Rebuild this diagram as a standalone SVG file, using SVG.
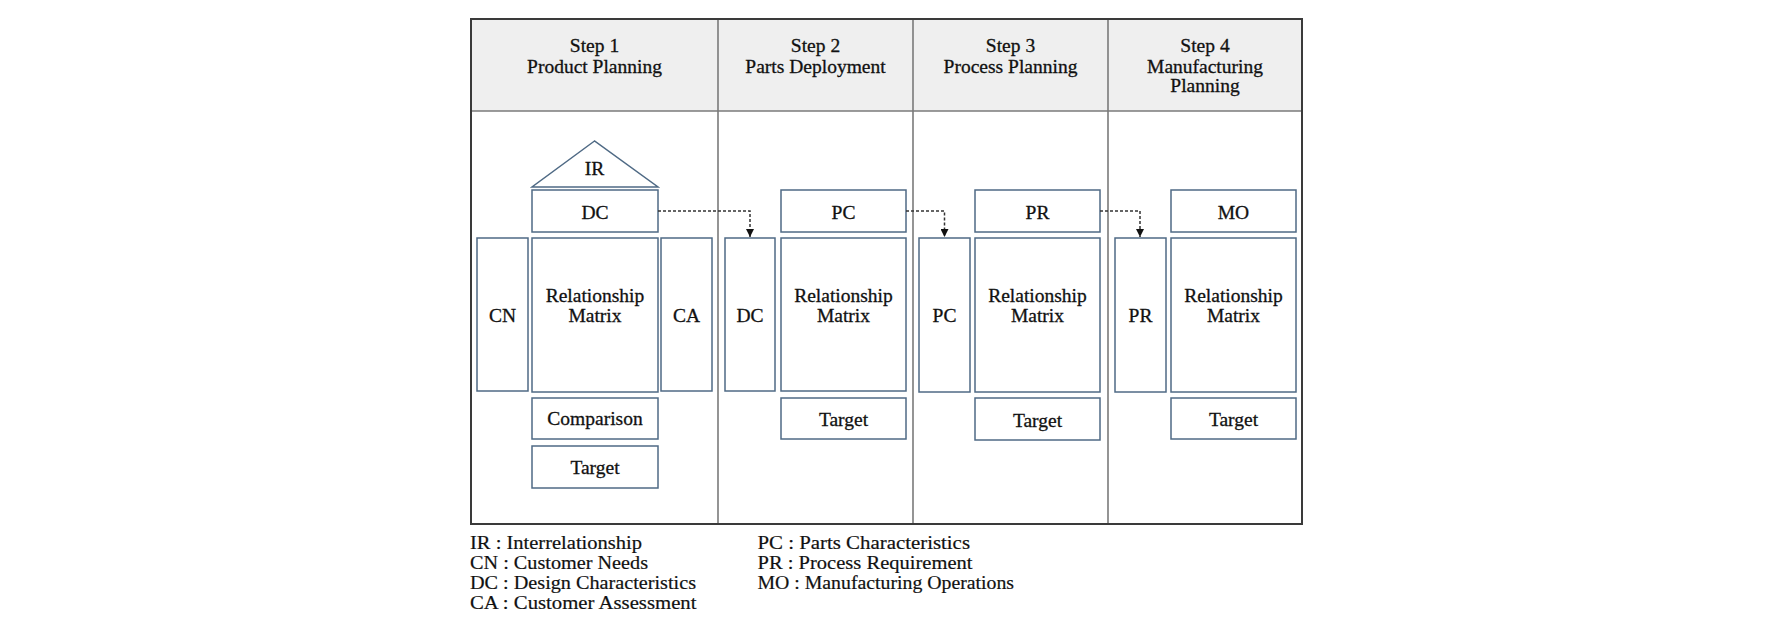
<svg xmlns="http://www.w3.org/2000/svg" width="1772" height="623" viewBox="0 0 1772 623">
<style>
text{font-family:"Liberation Serif","Times New Roman",serif;fill:#111;}
.h{font-size:19.5px;text-anchor:middle;stroke:#111;stroke-width:0.3;}
.l{font-size:19.5px;text-anchor:middle;stroke:#111;stroke-width:0.3;}
.lg{font-size:18.5px;stroke:#111;stroke-width:0.2;}
.box{fill:#fff;stroke:#4f6a85;stroke-width:1.5;}
.col{stroke:#7a7a7a;stroke-width:1.6;}
.conn{fill:none;stroke:#333;stroke-width:1.5;stroke-dasharray:3 2;}
</style>
<defs>
<marker id="arr" markerUnits="userSpaceOnUse" viewBox="0 0 8 8" refX="8" refY="4" markerWidth="8" markerHeight="8" orient="auto">
<path d="M0,0 L8,4 L0,8 z" fill="#111"/>
</marker>
</defs>
<rect width="1772" height="623" fill="#fff"/>
<g id="frame">
<rect x="471" y="19" width="831" height="92" fill="#efefef"/>
<line class="col" x1="471" y1="111" x2="1302" y2="111"/>
<line class="col" x1="718" y1="19" x2="718" y2="524"/>
<line class="col" x1="913" y1="19" x2="913" y2="524"/>
<line class="col" x1="1108" y1="19" x2="1108" y2="524"/>
<rect x="471" y="19" width="831" height="505" fill="none" stroke="#3a3a3a" stroke-width="2"/>
</g>
<g id="headers">
<text class="h" x="594.5" y="52">Step 1</text>
<text class="h" x="594.5" y="73">Product Planning</text>
<text class="h" x="815.5" y="52">Step 2</text>
<text class="h" x="815.5" y="73">Parts Deployment</text>
<text class="h" x="1010.5" y="52">Step 3</text>
<text class="h" x="1010.5" y="73">Process Planning</text>
<text class="h" x="1205" y="52">Step 4</text>
<text class="h" x="1205" y="72.5">Manufacturing</text>
<text class="h" x="1205" y="92">Planning</text>
</g>
<g id="n-ir"><polygon class="box" points="594.5,141 532,187 658,187"/><text class="l" x="594.5" y="175">IR</text></g>
<g id="n-dc1"><rect class="box" x="532" y="190" width="126" height="42"/><text class="l" x="595" y="219">DC</text></g>
<g id="n-cn"><rect class="box" x="477" y="238" width="51" height="153"/><text class="l" x="502.5" y="321.5">CN</text></g>
<g id="n-rm1"><rect class="box" x="532" y="238" width="126" height="154"/><text class="l" x="595" y="302">Relationship</text><text class="l" x="595" y="322">Matrix</text></g>
<g id="n-ca"><rect class="box" x="661" y="238" width="51" height="153"/><text class="l" x="686.5" y="321.5">CA</text></g>
<g id="n-comp"><rect class="box" x="532" y="398" width="126" height="41"/><text class="l" x="595" y="425">Comparison</text></g>
<g id="n-t1"><rect class="box" x="532" y="446" width="126" height="42"/><text class="l" x="595" y="474">Target</text></g>

<g id="n-pc2"><rect class="box" x="781" y="190" width="125" height="42"/><text class="l" x="843.5" y="219">PC</text></g>
<g id="n-dc2"><rect class="box" x="725" y="238" width="50" height="153"/><text class="l" x="750" y="321.5">DC</text></g>
<g id="n-rm2"><rect class="box" x="781" y="238" width="125" height="153"/><text class="l" x="843.5" y="301.5">Relationship</text><text class="l" x="843.5" y="321.5">Matrix</text></g>
<g id="n-t2"><rect class="box" x="781" y="398" width="125" height="41"/><text class="l" x="843.5" y="426">Target</text></g>

<g id="n-pr3"><rect class="box" x="975" y="190" width="125" height="42"/><text class="l" x="1037.5" y="219">PR</text></g>
<g id="n-pc3"><rect class="box" x="919" y="238" width="51" height="154"/><text class="l" x="944.5" y="321.5">PC</text></g>
<g id="n-rm3"><rect class="box" x="975" y="238" width="125" height="154"/><text class="l" x="1037.5" y="302">Relationship</text><text class="l" x="1037.5" y="322">Matrix</text></g>
<g id="n-t3"><rect class="box" x="975" y="398" width="125" height="42"/><text class="l" x="1037.5" y="426.5">Target</text></g>

<g id="n-mo4"><rect class="box" x="1171" y="190" width="125" height="42"/><text class="l" x="1233.5" y="219">MO</text></g>
<g id="n-pr4"><rect class="box" x="1115" y="238" width="51" height="154"/><text class="l" x="1140.5" y="321.5">PR</text></g>
<g id="n-rm4"><rect class="box" x="1171" y="238" width="125" height="154"/><text class="l" x="1233.5" y="302">Relationship</text><text class="l" x="1233.5" y="322">Matrix</text></g>
<g id="n-t4"><rect class="box" x="1171" y="398" width="125" height="41"/><text class="l" x="1233.5" y="426">Target</text></g>

<g id="connectors">
<path class="conn" d="M658,211 H750 V237" marker-end="url(#arr)"/>
<path class="conn" d="M906,211 H944.5 V237" marker-end="url(#arr)"/>
<path class="conn" d="M1100,211 H1140 V237" marker-end="url(#arr)"/>
</g>
<g id="legend">
<text class="lg" x="470" y="548.5" textLength="172" lengthAdjust="spacingAndGlyphs">IR : Interrelationship</text>
<text class="lg" x="470" y="569" textLength="178" lengthAdjust="spacingAndGlyphs">CN : Customer Needs</text>
<text class="lg" x="470" y="589" textLength="226" lengthAdjust="spacingAndGlyphs">DC : Design Characteristics</text>
<text class="lg" x="470" y="608.5" textLength="226.5" lengthAdjust="spacingAndGlyphs">CA : Customer Assessment</text>
<text class="lg" x="757.5" y="548.5" textLength="212.5" lengthAdjust="spacingAndGlyphs">PC : Parts Characteristics</text>
<text class="lg" x="757.5" y="569" textLength="215" lengthAdjust="spacingAndGlyphs">PR : Process Requirement</text>
<text class="lg" x="757.5" y="589" textLength="256.5" lengthAdjust="spacingAndGlyphs">MO : Manufacturing Operations</text>
</g>
</svg>
